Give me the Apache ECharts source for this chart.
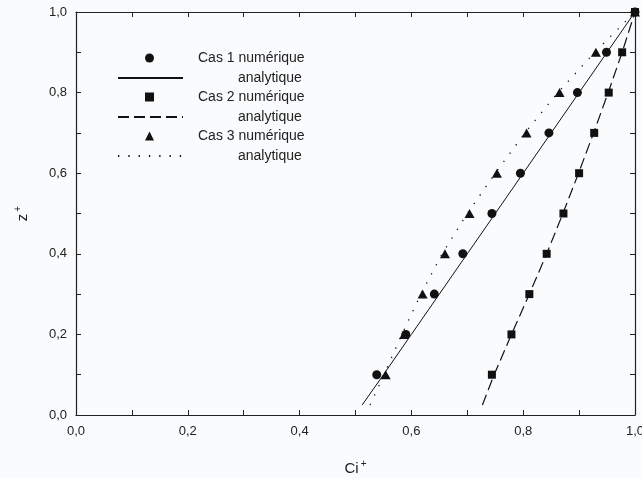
<!DOCTYPE html>
<html>
<head>
<meta charset="utf-8">
<script src="https://cdn.jsdelivr.net/npm/echarts@6/dist/echarts.min.js"></script>
<style>
  html, body { margin: 0; padding: 0; background: #fafbfd; }
  #main { width: 642px; height: 479px; }
</style>
</head>
<body>
<div id="main"></div>
<script>
;(function () {
  // z+ levels of the numerical points
  const zLevels = [0.1, 0.2, 0.3, 0.4, 0.5, 0.6, 0.7, 0.8, 0.9, 1.0]

  // Ci+ for each case
  const cas1Num = [0.538, 0.590, 0.641, 0.692, 0.744, 0.795, 0.846, 0.897, 0.949, 1.0]
  const cas2Num = [0.744, 0.779, 0.811, 0.842, 0.872, 0.900, 0.927, 0.953, 0.977, 1.0]
  const cas3Num = [0.554, 0.587, 0.620, 0.660, 0.704, 0.753, 0.806, 0.865, 0.930, 1.0]

  // analytical curves
  const anaZ = [0.025, 0.1, 0.2, 0.3, 0.4, 0.5, 0.6, 0.7, 0.8, 0.9, 1.0]
  const cas1Ana = [0.512, 0.550, 0.600, 0.650, 0.700, 0.750, 0.800, 0.850, 0.900, 0.950, 1.0]
  const cas2Ana = [0.727, 0.748, 0.779, 0.811, 0.842, 0.871, 0.899, 0.926, 0.952, 0.977, 1.0]
  const cas3Ana = [0.526, 0.551, 0.583, 0.617, 0.655, 0.700, 0.750, 0.803, 0.862, 0.928, 1.0]

  const numNames = ['Cas 1 numérique', 'Cas 2 numérique', 'Cas 3 numérique']
  const anaNames = ['Cas 1 analytique', 'Cas 2 analytique', 'Cas 3 analytique']

  const pairs = (xs, ys) => xs.map((x, i) => [x, ys[i]])
  const fmt = (v) => v.toFixed(1).replace('.', ',')
  const ink = '#111'
  const font = 'Liberation Sans'

  const frameAxis = (extra) =>
    Object.assign(
      {
        type: 'value',
        min: 0,
        max: 1,
        interval: 0.2,
        axisLine: { show: true, onZero: false, lineStyle: { color: '#222', width: 1.2 } },
        axisTick: { show: true, inside: true, length: 5, lineStyle: { color: '#222' } },
        minorTick: { show: true, splitNumber: 2, length: 5, lineStyle: { color: '#222' } },
        splitLine: { show: false },
        axisLabel: { show: false },
      },
      extra
    )

  const labelStyle = { fontFamily: font, fontSize: 13, color: '#222', formatter: fmt }
  const nameRich = {
    a: { fontFamily: font, fontSize: 15, color: '#222' },
    s: { fontFamily: font, fontSize: 10, color: '#222', padding: [0, 0, 9, 2] },
  }

  const legendBase = {
    orient: 'vertical',
    padding: 0,
    itemGap: 25,
    selectedMode: false,
    textStyle: { fontFamily: font, fontSize: 14, lineHeight: 14, color: '#222' },
  }

  const chart = echarts.init(document.getElementById('main'))
  chart.setOption({
    backgroundColor: '#fafbfd',
    animation: false,
    grid: { left: 76, right: 7, top: 12, bottom: 64, containLabel: false, outerBoundsMode: 'none' },
    xAxis: [
      frameAxis({
        position: 'bottom',
        axisLabel: Object.assign({ show: true, margin: 10 }, labelStyle),
        name: '{a|Ci}{s|+}',
        nameLocation: 'middle',
        nameGap: 44,
        nameTextStyle: { rich: nameRich },
      }),
      frameAxis({ position: 'top' }),
    ],
    yAxis: [
      frameAxis({
        position: 'left',
        axisLabel: Object.assign({ show: true, margin: 9 }, labelStyle),
        name: '{a|z}{s|+}',
        nameLocation: 'middle',
        nameGap: 44,
        nameTextStyle: { rich: nameRich },
      }),
      frameAxis({ position: 'right' }),
    ],
    legend: [
      Object.assign({}, legendBase, {
        left: 145,
        top: 51,
        itemWidth: 9,
        itemHeight: 9,
        data: numNames,
        formatter: '{a|{name}}',
        textStyle: {
          rich: { a: { fontFamily: font, fontSize: 14, color: '#222', lineHeight: 14, padding: [0, 0, 0, 39] } },
        },
      }),
      Object.assign({}, legendBase, {
        left: 117,
        top: 71,
        itemWidth: 65,
        itemHeight: 9,
        data: anaNames,
        itemStyle: { opacity: 0 },
        formatter: '{b|analytique}',
        textStyle: {
          rich: { b: { fontFamily: font, fontSize: 14, color: '#222', lineHeight: 14, padding: [0, 0, 0, 50] } },
        },
      }),
    ],
    series: [
      {
        name: anaNames[0],
        type: 'line',
        data: pairs(cas1Ana, anaZ),
        showSymbol: false,
        symbol: 'none',
        lineStyle: { color: ink, width: 1 },
        itemStyle: { color: ink },
      },
      {
        name: anaNames[1],
        type: 'line',
        data: pairs(cas2Ana, anaZ),
        showSymbol: false,
        symbol: 'none',
        lineStyle: { color: ink, width: 1.2, type: [11, 5] },
        itemStyle: { color: ink },
      },
      {
        name: anaNames[2],
        type: 'line',
        data: pairs(cas3Ana, anaZ),
        showSymbol: false,
        symbol: 'none',
        lineStyle: { color: ink, width: 1.3, type: [1.3, 9] },
        itemStyle: { color: ink },
      },
      {
        name: numNames[2],
        type: 'scatter',
        data: pairs(cas3Num, zLevels),
        symbol: 'triangle',
        symbolSize: [10, 9],
        clip: false,
        itemStyle: { color: ink, opacity: 1 },
      },
      {
        name: numNames[1],
        type: 'scatter',
        data: pairs(cas2Num, zLevels),
        symbol: 'rect',
        symbolSize: 8,
        clip: false,
        itemStyle: { color: ink, opacity: 1 },
      },
      {
        name: numNames[0],
        type: 'scatter',
        data: pairs(cas1Num, zLevels),
        symbol: 'circle',
        symbolSize: 9,
        clip: false,
        itemStyle: { color: ink, opacity: 1 },
      },
    ],
  })
})()
</script>
</body>
</html>
